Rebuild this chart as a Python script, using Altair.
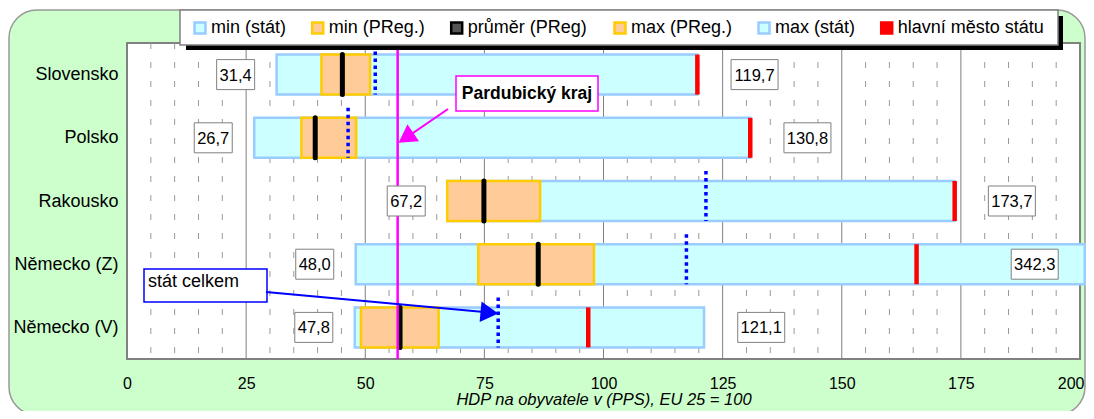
import math
import json
import altair as alt
import pandas as pd

# ---------------- data ----------------
countries = ["Slovensko", "Polsko", "Rakousko", "Německo (Z)", "Německo (V)"]
min_stat = [31.4, 26.7, 67.2, 48.0, 47.8]
min_preg = [40.8, 36.6, 67.2, 73.7, 49.1]
prumer_preg = [45.2, 39.5, 74.9, 86.3, 57.3]
max_preg = [51.0, 48.1, 86.7, 98.0, 65.4]
max_stat = [119.7, 130.8, 173.7, 342.3, 121.1]
hlavni_mesto = [119.7, 130.8, 173.7, 165.7, 96.8]
stat_celkem = [52.1, 46.4, 121.5, 117.4, 77.9]
pardubicky_kraj = 56.8

x_ticks = [0, 25, 50, 75, 100, 125, 150, 175, 200]
legend_names = ["min (stát)", "min (PReg.)", "průměr (PReg)", "max (PReg.)",
                "max (stát)", "hlavní město státu"]
legend_fill = ["#CCFFFF", "#FFCC99", "#555555", "#FFCC99", "#CCFFFF", "#FF0000"]
legend_stroke = ["#99CCFF", "#FFCC00", "#000000", "#FFCC00", "#99CCFF", "#FF0000"]

# ---------------- layout ----------------
FONT = "Liberation Sans"
W, H = 953, 316
XMAX = 200
PX = W / XMAX
ROW = H / len(countries)
HALF = 20 / ROW          # bar half height in row units


def fmt(v):
    return f"{v:.1f}".replace(".", ",")


rows = []
for i, c in enumerate(countries):
    rows.append(dict(
        idx=i, country=c,
        min_stat=min_stat[i], min_preg=min_preg[i], prumer=prumer_preg[i],
        max_preg=max_preg[i], max_stat=min(max_stat[i], XMAX + 1),
        capital=hlavni_mesto[i], celkem=stat_celkem[i],
        y0=i - HALF, y1=i + HALF,
        yd0=i - HALF - 10 / ROW, yd1=i + HALF,
    ))
df = pd.DataFrame(rows)

lab_rows = []
for i in range(len(countries)):
    for val, cx in ((min_stat[i], min_stat[i] - 8.6),
                    (max_stat[i], min(max_stat[i] + 12, 190.5))):
        t = fmt(val)
        hw = (9 * len(t) + 2) / 2 / PX
        lab_rows.append(dict(text=t, cx=cx, bx0=cx - hw, bx1=cx + hw,
                             idx=i, by0=i - 15 / ROW, by1=i + 15 / ROW))
df_lab = pd.DataFrame(lab_rows)

df_minor = pd.DataFrame({"v": [v for v in range(5, XMAX, 5) if v % 25]})
df_major = pd.DataFrame({"v": [v for v in x_ticks if 0 < v < XMAX]})
df_pard = pd.DataFrame({"v": [pardubicky_kraj]})
one = pd.DataFrame({"a": [0]})

# legend entries laid out in pixels (symbol centres as in the reference)
leg_sym_x = [73, 190.7, 329.7, 493, 637, 759.7]
df_leg = pd.DataFrame({"name": legend_names, "fill": legend_fill,
                       "stroke": legend_stroke, "sx": leg_sym_x,
                       "tx": [v + 11 for v in leg_sym_x]})

xs = alt.Scale(domain=[0, XMAX], nice=False, zero=False)
ys = alt.Scale(domain=[-0.5, len(countries) - 0.5], reverse=True, nice=False, zero=False)
last_tick = f"datum.value == {XMAX}"
xaxis = alt.Axis(values=x_ticks, grid=False, ticks=False, domain=False,
                 labelFontSize=16, labelFont=FONT, labelColor="black",
                 labelPadding=16, labelFlush=False,
                 labelAlign={"condition": {"test": last_tick, "value": "right"}, "value": "center"},
                 labelOffset={"condition": {"test": last_tick, "value": 4}, "value": 0},
                 title="HDP na obyvatele v (PPS), EU 25 = 100",
                 titleFont=FONT, titleFontSize=16.5, titleFontStyle="italic",
                 titleFontWeight="normal", titleColor="black", titlePadding=0,
                 zindex=1)
yaxis = alt.Axis(values=list(range(len(countries))),
                 labelExpr=json.dumps(countries, ensure_ascii=False) + "[datum.value]",
                 grid=False, ticks=False, domain=False,
                 labelFontSize=18, labelFont=FONT, labelColor="black",
                 labelPadding=9, title=None, zindex=1)


def X(f):
    return alt.X(f, type="quantitative", scale=xs, axis=xaxis)


def Y(f):
    return alt.Y(f, type="quantitative", scale=ys, axis=yaxis)


def xp(v):
    return v * PX


def yp(i):
    return (i + 0.5) * ROW


# ---------------- background ----------------
bg = alt.Chart(one).mark_rect(fill="#CCFFCC", stroke="#999999", strokeWidth=1.5,
                              cornerRadius=28).encode(
    x=alt.value(-118), x2=alt.value(958), y=alt.value(-33), y2=alt.value(372))
plot_bg = alt.Chart(one).mark_rect(fill="white", stroke="#808080", strokeWidth=2).encode(
    x=alt.value(0), x2=alt.value(W), y=alt.value(0), y2=alt.value(H))

minor = alt.Chart(df_minor).mark_rule(color="#999999", strokeWidth=1,
                                      strokeDash=[6, 13]).encode(x=X("v"))
major = alt.Chart(df_major).mark_rule(color="#808080", strokeWidth=1).encode(x=X("v"))

# ---------------- bars ----------------
stat_bar = alt.Chart(df).mark_rect(fill="#CCFFFF", stroke="#99CCFF", strokeWidth=2.5).encode(
    x=X("min_stat"), x2="max_stat", y=Y("y0"), y2="y1")
preg_bar = alt.Chart(df).mark_rect(fill="#FFCC99", stroke="#FFCC00", strokeWidth=2.5).encode(
    x=X("min_preg"), x2="max_preg", y=Y("y0"), y2="y1")
cap = alt.Chart(df).mark_rule(color="#FF0000", strokeWidth=4.5).encode(
    x=X("capital"), y=Y("y0"), y2="y1")
mean = alt.Chart(df).mark_rule(color="#000000", strokeWidth=5, strokeCap="round").encode(
    x=X("prumer"), y=Y("y0"), y2="y1")
total = alt.Chart(df).mark_rule(color="#0000FF", strokeWidth=3.5, strokeDash=[3.5, 3.5]).encode(
    x=X("celkem"), y=Y("yd0"), y2="yd1")
pard = alt.Chart(df_pard).mark_rule(color="#FF00FF", strokeWidth=2.5).encode(x=X("v"))

# ---------------- value labels ----------------
lab_box = alt.Chart(df_lab).mark_rect(fill="white", stroke="#808080", strokeWidth=1).encode(
    x=X("bx0"), x2="bx1", y=Y("by0"), y2="by1")
lab_txt = alt.Chart(df_lab).mark_text(font=FONT, fontSize=16.5, color="black",
                                      baseline="middle", align="center", dy=1).encode(
    x=X("cx"), y=Y("idx"), text="text:N")


# ---------------- annotations ----------------
def arrow(x0, y0, x1, y1, color, size=420):
    dx, dy = x1 - x0, y1 - y0
    n = math.hypot(dx, dy)
    ux, uy = dx / n, dy / n
    ang = math.degrees(math.atan2(dx, -dy)) % 360
    back = math.sqrt(size) * 0.43
    line = alt.Chart(one).mark_rule(color=color, strokeWidth=2).encode(
        x=alt.value(x0), y=alt.value(y0),
        x2=alt.value(x1 - ux * back), y2=alt.value(y1 - uy * back))
    head = alt.Chart(one).mark_point(shape="triangle-up", filled=True, color=color,
                                     opacity=1, size=size, angle=ang).encode(
        x=alt.value(x1 - ux * back), y=alt.value(y1 - uy * back))
    return [line, head]


p_box = alt.Chart(one).mark_rect(fill="white", stroke="#FF00FF", strokeWidth=1.5).encode(
    x=alt.value(329), x2=alt.value(471), y=alt.value(33), y2=alt.value(68))
p_txt = alt.Chart(one).mark_text(text="Pardubický kraj", font=FONT, fontSize=17.5,
                                 fontWeight="bold", color="black", align="center",
                                 baseline="middle").encode(x=alt.value(400), y=alt.value(51))
p_arrow = arrow(321, 66, xp(pardubicky_kraj) + 1, yp(1) + 5, "#FF00FF")

s_box = alt.Chart(one).mark_rect(fill="white", stroke="#0000FF", strokeWidth=1.5).encode(
    x=alt.value(17), x2=alt.value(140), y=alt.value(226), y2=alt.value(259))
s_txt = alt.Chart(one).mark_text(text="stát celkem", font=FONT, fontSize=18,
                                 color="black", align="left",
                                 baseline="middle").encode(x=alt.value(21), y=alt.value(239))
s_arrow = arrow(139, 249, xp(stat_celkem[4]), yp(4) - 14, "#0000FF")

# ---------------- legend (drawn as marks) ----------------
leg_shadow = alt.Chart(one).mark_rect(fill="black").encode(
    x=alt.value(59), x2=alt.value(936), y=alt.value(-27), y2=alt.value(7))
leg_box = alt.Chart(one).mark_rect(fill="white", stroke="#808080", strokeWidth=1.5).encode(
    x=alt.value(53), x2=alt.value(931), y=alt.value(-33), y2=alt.value(2))
leg_sym = alt.Chart(df_leg).mark_point(shape="square", filled=True, opacity=1,
                                       size=121, strokeWidth=2.5).encode(
    x=alt.X("sx:Q", scale=None), y=alt.value(-15),
    fill=alt.Fill("fill:N", scale=None), stroke=alt.Stroke("stroke:N", scale=None))
leg_txt = alt.Chart(df_leg).mark_text(font=FONT, fontSize=18, color="black", align="left",
                                      baseline="middle").encode(
    x=alt.X("tx:Q", scale=None), y=alt.value(-15), text="name:N")

layers = [bg, plot_bg, minor, major, stat_bar, preg_bar, cap, mean, total, pard,
          lab_box, lab_txt, p_box, p_txt] + p_arrow + [s_box, s_txt] + s_arrow + \
         [leg_shadow, leg_box, leg_sym, leg_txt]

chart = alt.layer(*layers).properties(
    width=W, height=H,
    padding={"left": 119, "top": 35, "right": 6, "bottom": 52},
    autosize=alt.AutoSizeParams(type="none"),
).configure(background="white").configure_view(strokeWidth=0)

chart.save("out.html", embed_options={"renderer": "svg", "actions": False})
